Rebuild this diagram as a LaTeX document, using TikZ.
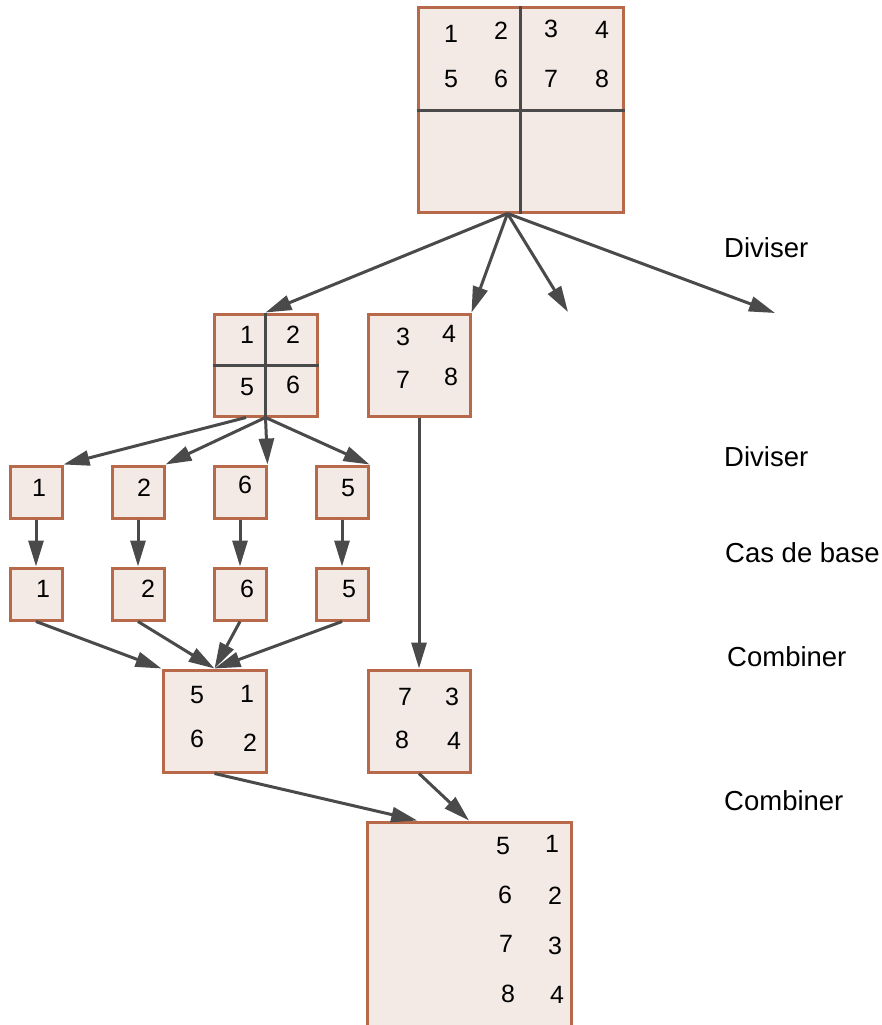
\documentclass[tikz,border=0pt]{standalone}
\usepackage{fontspec}
\setmainfont{Liberation Sans}
\usepackage{xcolor}
\definecolor{BoxFill}{HTML}{F4EAE5}
\definecolor{BoxLine}{HTML}{B8694A}
\definecolor{ArrowGray}{HTML}{4A4A4A}
\usetikzlibrary{calc,positioning,arrows.meta}

\begin{document}
\begin{tikzpicture}[x=1pt,y=-1pt,
        box/.style={draw=BoxLine, fill=BoxFill, line width=3pt, inner sep=0pt},
        num/.style={inner sep=0pt, font=\fontsize{25}{25}\selectfont},
        lbl/.style={anchor=west, inner sep=0pt, font=\fontsize{27.5}{27.5}\selectfont},
        arr/.style={draw=ArrowGray, line width=3pt, -{Triangle[length=26pt,width=15pt]}},
        cut/.style={draw=ArrowGray, line width=3pt}]
        \useasboundingbox (0,0) rectangle (882,1025);
        \clip (0,0) rectangle (882,1025);

        \node[box, minimum width=205pt, minimum height=204pt] (root) at (520.5,110) {};
        \draw[cut] (root.north) -- (root.south);
        \draw[cut] (root.west) -- (root.east);
        \foreach \d/\x/\y in {1/451/34, 2/501/31, 3/551/29, 4/602/30, 5/451/79, 6/501/79, 7/551/79, 8/602/79}
                \node[num] (r\d) at (\x,\y) {\d};

        \node[box, minimum width=103pt, minimum height=102pt] (half) at (265.5,365) {};
        \draw[cut] (half.north) -- (half.south);
        \draw[cut] (half.west) -- (half.east);
        \foreach \d/\x/\y in {1/247/335, 2/293/335, 5/247/387, 6/293/385}
                \node[num] (h\d) at (\x,\y) {\d};

        \node[box, minimum width=102pt, minimum height=102pt] (right) at (419,365) {};
        \foreach \d/\x/\y in {3/403/337, 4/449/334, 7/403/380, 8/451/377}
                \node[num] (q\d) at (\x,\y) {\d};

        \coordinate (split) at ([xshift=-13]root.south);
        \coordinate (free1) at (568,312);
        \coordinate (free2) at (775,313);
        \draw[arr] (split) -- (half.north);
        \draw[arr] (split) -- (right.north east);
        \draw[arr] (split) -- (free1);
        \draw[arr] (split) -- (free2);

        \foreach \i/\x/\d/\a/\b/\c in {1/36/1/39/43/488, 2/138/2/144/148/488, 3/240/6/245/247/485, 4/342/5/348/349/488} {
                \node[box, minimum size=52pt] (top\i) at (\x,492) {};
                \node[num] (tn\i) at (\a,\c) {\d};
                \node[box, minimum size=52pt] (base\i) at (\x,594) {};
                \node[num] (bn\i) at (\b,589) {\d};
                \draw[arr] (top\i) -- (base\i);
        }

        \coordinate (halfout) at ([xshift=-19.5]half.south);
        \draw[arr] (halfout) -- (top1.north east);
        \foreach \i in {2,3,4}
                \draw[arr] (half.south) -- (top\i.north east);

        \node[box, minimum width=103pt, minimum height=102pt] (comb) at (214.5,721) {};
        \foreach \d/\x/\y in {5/197/695, 1/247/694, 6/197/739, 2/250/743}
                \node[num] (c\d) at (\x,\y) {\d};
        \node[box, minimum width=102pt, minimum height=102pt] (combr) at (419,721) {};
        \foreach \d/\x/\y in {7/405/697, 3/452/697, 8/402/740, 4/454/741}
                \node[num] (k\d) at (\x,\y) {\d};

        \draw[arr] (base1.south) -- (comb.north west);
        \foreach \i in {2,3,4}
                \draw[arr] (base\i.south) -- (comb.north);
        \draw[arr] (right.south) -- (combr.north);

        \node[box, minimum width=204pt, minimum height=220pt] (final) at (469,932) {};
        \foreach \d/\x/\y in {5/503/846, 1/552/844, 6/505/895, 2/555/896, 7/506/944, 3/555/946, 8/508/994, 4/557/995}
                \node[num] (f\d) at (\x,\y) {\d};
        \draw[arr] (comb.south) -- ($(final.north west)!0.25!(final.north east)$);
        \draw[arr] (combr.south) -- (final.north);

        \node[lbl] (div1) at (724,248) {Diviser};
        \node[lbl] (div2) at (724,457) {Diviser};
        \node[lbl] (casbase) at (725,553) {Cas de base};
        \node[lbl] (comb1) at (727,657) {Combiner};
        \node[lbl] (comb2) at (724,801) {Combiner};
\end{tikzpicture}
\end{document}
